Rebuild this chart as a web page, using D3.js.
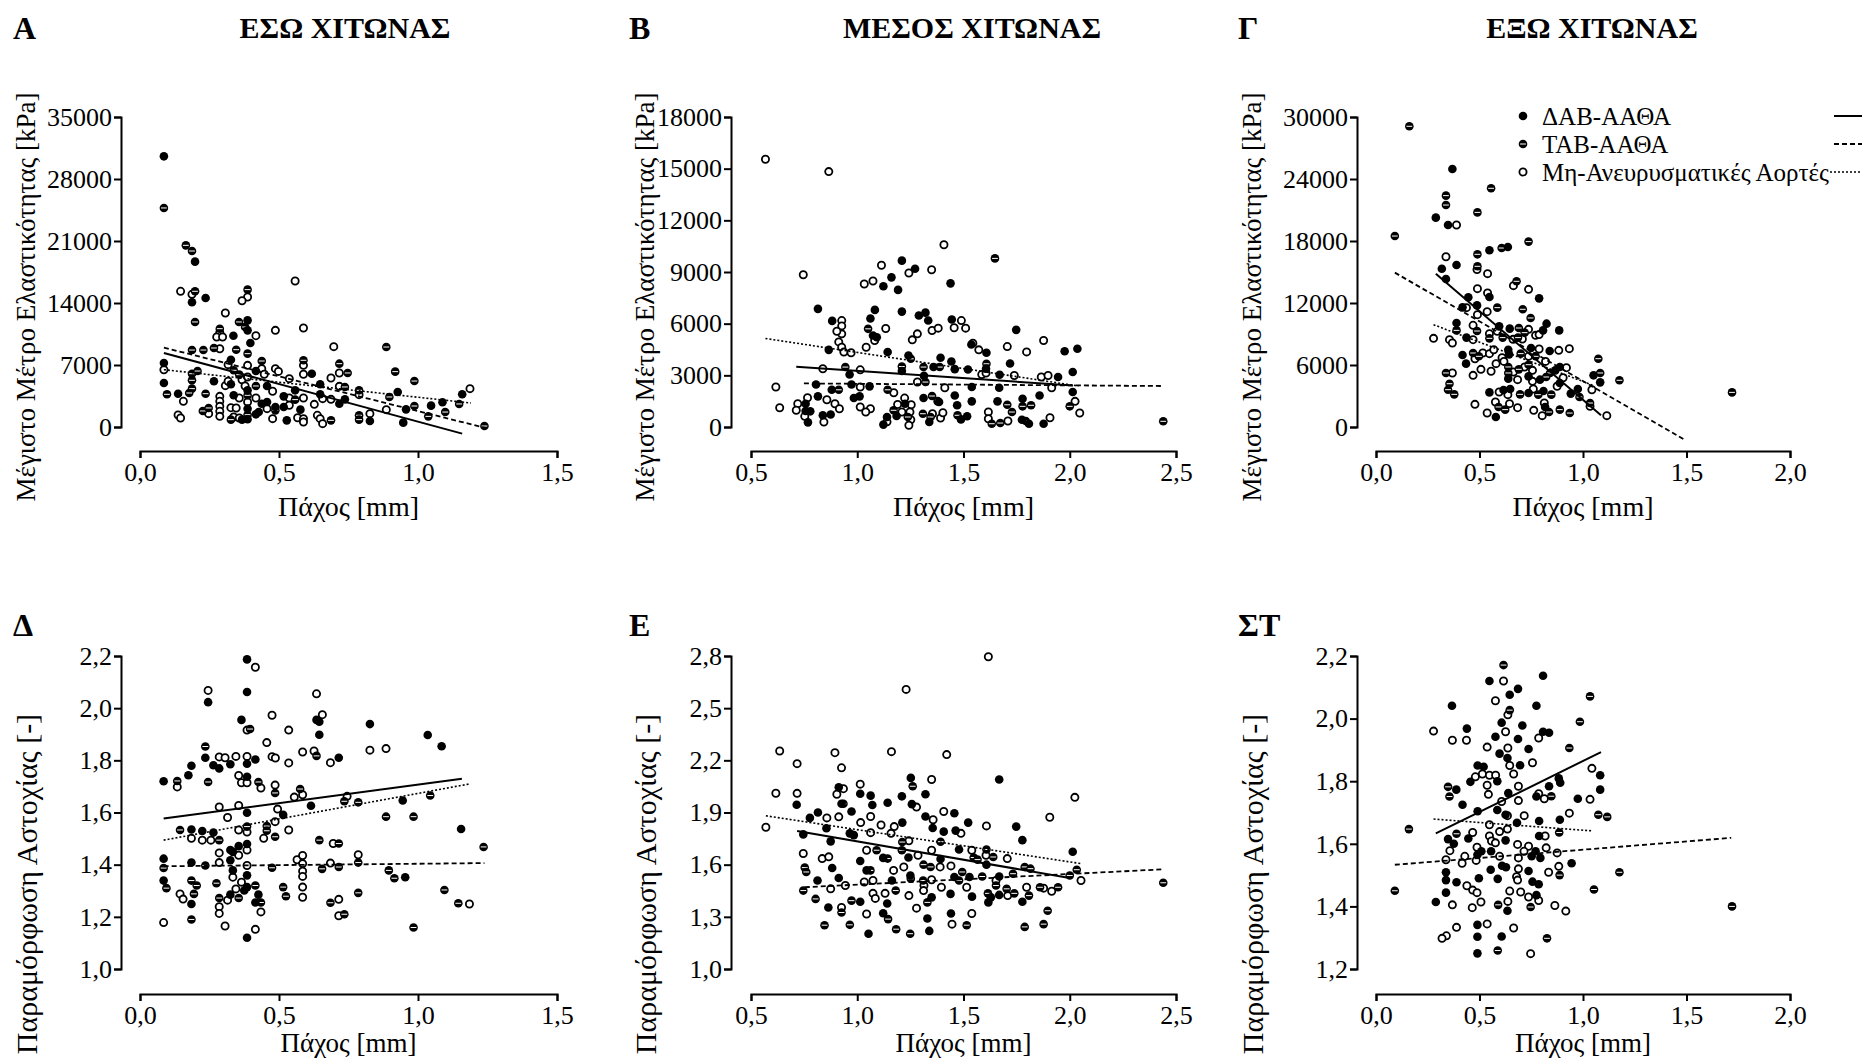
<!DOCTYPE html>
<html><head><meta charset="utf-8">
<script src="https://cdn.jsdelivr.net/npm/d3@7"></script>
<style>body{margin:0;background:#fff}svg{display:block}text{font-family:"Liberation Serif","Times New Roman",serif;fill:#000}</style>
</head><body>
<svg id="c" width="1863" height="1060"></svg>
<script>
// ---------- DATA ----------
const groupNames = ["ΔΑΒ-ΑΑΘΑ", "ΤΑΒ-ΑΑΘΑ", "Μη-Ανευρυσματικές Αορτές"];
const panelLetters = ["Α", "Β", "Γ", "Δ", "Ε", "ΣΤ"];
const panelTitles = ["ΕΣΩ ΧΙΤΩΝΑΣ", "ΜΕΣΟΣ ΧΙΤΩΝΑΣ", "ΕΞΩ ΧΙΤΩΝΑΣ"];
const yLabelTop = "Μέγιστο Μέτρο Ελαστικότητας [kPa]";
const yLabelBottom = "Παραμόρφωση Αστοχίας [-]";
const xLabel = "Πάχος [mm]";
const xDomains = [[0, 1.5], [0.5, 2.5], [0, 2.0]];
const yDomainsTop = [[0, 35000], [0, 18000], [0, 30000]];
const yStepsTop = [7000, 3000, 6000];
const yDomainsBottom = [[1.0, 2.2], [1.0, 2.8], [1.2, 2.2]];
const yStepsBottom = [0.2, 0.3, 0.2];

// Panel A
const A_dab = [[0.086,30560],[0.198,18670],[0.187,14080],[0.236,14570],[0.387,12040],[0.387,10910],[0.336,10310],[0.397,9480],[0.086,7230],[0.086,4970],[0.137,3760],[0.266,5160],[0.327,7600],[0.327,4820],[0.337,3580],[0.367,830],[0.387,4140],[0.387,2070],[0.417,6320],[0.417,1430],[0.427,1690],[0.438,2630],[0.457,2820],[0.457,4630],[0.487,2260],[0.517,3460],[0.517,2260],[0.528,750],[0.558,4140],[0.577,1960],[0.618,6020],[0.648,4820],[0.648,3690],[0.717,2630],[0.737,3120],[0.827,680],[0.927,3950],[0.947,490],[0.957,1990],[1.047,2410],[1.088,2790],[1.159,3690],[0.387,870]];
const A_tab = [[0.086,24730],[0.165,20510],[0.187,19870],[0.198,15320],[0.387,15510],[0.198,11860],[0.356,11860],[0.378,11290],[0.287,11100],[0.187,8690],[0.228,8690],[0.266,8920],[0.346,8730],[0.387,8280],[0.097,3690],[0.187,6020],[0.187,5270],[0.187,4330],[0.177,3840],[0.207,6320],[0.236,3760],[0.226,1810],[0.247,2150],[0.337,6400],[0.327,830],[0.357,5910],[0.387,3580],[0.417,4630],[0.438,7450],[0.487,1880],[0.558,3090],[0.588,7530],[0.687,750],[0.717,7150],[0.747,6100],[0.737,4520],[0.788,4140],[0.788,1320],[0.788,830],[0.886,9030],[0.897,3390],[0.918,6250],[0.987,5190],[0.987,2370],[1.037,1200],[1.098,1690],[1.148,2600],[1.239,110],[0.387,1390]];
const A_non = [[0.146,15320],[0.187,14980],[0.387,14680],[0.367,14260],[0.558,16480],[0.307,12870],[0.287,10650],[0.276,10160],[0.297,10160],[0.417,10310],[0.487,10910],[0.588,11180],[0.697,9070],[0.287,8840],[0.086,6470],[0.156,2900],[0.137,1350],[0.146,1020],[0.247,1510],[0.287,3460],[0.287,2900],[0.287,2330],[0.287,1770],[0.287,1200],[0.307,4670],[0.317,5160],[0.317,7040],[0.327,2180],[0.346,2150],[0.337,1130],[0.357,3270],[0.357,1020],[0.367,5340],[0.378,4630],[0.387,5650],[0.387,6960],[0.387,2820],[0.417,3270],[0.438,6590],[0.447,5950],[0.457,2070],[0.477,4030],[0.477,940],[0.487,6590],[0.498,6280],[0.537,5460],[0.537,3270],[0.537,2450],[0.567,1050],[0.588,6960],[0.588,5950],[0.588,3270],[0.588,940],[0.588,560],[0.627,2560],[0.638,1320],[0.648,940],[0.657,3200],[0.657,380],[0.687,5530],[0.687,3120],[0.717,6100],[0.717,4590],[0.788,3650],[0.827,1510],[0.886,1960],[1.187,4330]];
const A_fit_dab = [[0.086,8360],[1.159,-750]];
const A_fit_tab = [[0.086,8960],[1.239,-75]];
const A_fit_non = [[0.086,6470],[1.19,2710]];

// Panel B
const B_dab = [[1.21,9660],[1.272,9190],[1.161,8690],[1.123,8170],[1.192,7960],[1.439,8340],[0.815,6860],[1.083,6800],[1.21,6700],[0.882,6160],[1.062,6300],[1.074,5310],[1.092,5210],[1.29,6470],[1.321,6640],[1.334,6180],[1.445,6240],[1.537,4790],[1.608,4310],[1.748,5640],[1.976,4400],[2.036,4540],[0.866,4480],[1.143,4350],[1.241,4150],[1.392,4020],[1.443,3800],[1.719,3690],[0.964,3050],[1.21,3250],[1.359,3480],[1.459,3360],[1.521,3340],[1.606,3380],[1.67,3030],[1.945,2900],[2.014,3190],[1.314,2970],[0.806,2470],[0.973,2470],[1.058,2360],[1.539,2320],[1.668,2280],[2.014,2030],[0.88,2160],[0.815,1780],[0.984,1680],[1.011,1780],[1.312,1680],[1.459,1830],[1.539,1490],[1.778,1640],[1.858,1830],[0.757,1350],[1.225,1350],[1.385,1450],[1.47,1260],[1.66,1490],[0.757,930],[0.779,910],[0.768,270],[0.838,680],[0.875,730],[1.14,580],[1.123,140],[1.185,640],[1.339,290],[1.488,440],[1.517,620],[1.775,420],[1.808,190],[1.877,190]];
const B_tab = [[1.648,9790],[1.051,5700],[1.252,3960],[1.608,3670],[0.944,3480],[1.21,3510],[1.312,3480],[1.388,3480],[1.321,2610],[0.913,2160],[1.143,2160],[1.352,1800],[1.171,970],[1.706,1290],[1.778,1200],[1.818,1260],[2.0,1200],[1.238,580],[1.309,770],[1.345,580],[1.472,680],[1.633,190],[1.673,230],[1.728,870],[1.793,350],[2.44,330]];
const B_non = [[0.568,15550],[0.866,14830],[0.746,8840],[0.617,2320],[0.635,1120],[1.408,10580],[1.243,8940],[1.35,9130],[1.114,9390],[1.033,8300],[1.074,8480],[0.927,6180],[0.927,5870],[0.927,5410],[0.904,5560],[0.913,4940],[0.927,4630],[0.937,4350],[0.971,4310],[1.082,5020],[1.134,5720],[1.259,5060],[1.283,5410],[1.352,5600],[1.381,5740],[1.456,5760],[1.49,6180],[1.51,5740],[1.544,4870],[1.572,4480],[1.706,4670],[1.797,4360],[1.877,5020],[1.042,4630],[0.838,3380],[1.014,3320],[1.586,3050],[1.739,2990],[1.866,2900],[1.898,2990],[1.606,3130],[1.283,2610],[1.014,2320],[1.412,2280],[1.915,2280],[1.172,1990],[0.857,1580],[0.766,1700],[1.223,1680],[1.379,1490],[2.025,1490],[0.72,1350],[0.895,1350],[0.916,1060],[1.014,1160],[1.062,1060],[1.19,1310],[1.254,1290],[2.047,810],[0.713,970],[0.753,620],[0.843,290],[1.04,870],[1.14,300],[1.21,870],[1.248,870],[1.252,420],[1.243,100],[1.354,770],[1.392,520],[1.403,830],[1.617,870],[1.617,480],[1.709,350],[1.907,540]];
const B_fit_dab = [[0.713,3500],[2.014,2410]];
const B_fit_tab = [[0.749,2530],[2.43,2380]];
const B_fit_non = [[0.568,5140],[2.041,2380]];

// Panel C
const C_dab = [[0.369,24970],[0.289,20260],[0.348,19550],[0.548,17100],[0.637,17420],[0.318,15320],[0.338,14320],[0.389,15680],[0.548,12580],[0.788,12450],[0.446,12550],[0.488,11770],[0.418,11580],[0.389,10060],[0.595,9740],[0.646,9520],[0.824,10000],[0.807,9350],[0.885,9350],[0.437,8650],[0.749,7650],[0.839,7350],[0.418,6970],[0.639,7480],[0.643,7030],[0.435,6130],[0.866,5480],[0.888,5810],[1.051,5000],[1.083,4320],[0.639,4680],[0.737,4900],[0.792,4580],[0.888,4260],[0.548,3350],[0.616,3580],[0.648,3680],[0.737,3290],[0.809,3480],[0.941,3230],[0.975,3680],[0.817,1940],[0.579,970]];
const C_tab = [[0.161,29100],[0.091,18480],[0.556,23100],[0.338,22390],[0.338,21480],[0.49,20770],[0.49,16710],[0.49,15550],[0.607,17320],[0.737,17940],[0.679,14100],[0.586,11550],[0.709,11390],[0.747,10550],[0.389,9350],[0.488,9290],[0.69,9580],[0.718,9130],[0.548,8580],[0.612,8650],[0.686,8650],[0.469,7160],[0.497,6840],[0.699,7100],[0.771,6840],[1.074,6610],[0.639,5810],[0.639,5230],[0.69,5580],[0.737,6030],[0.841,5230],[0.338,5230],[1.083,5230],[1.176,4520],[0.822,4840],[0.355,4190],[0.348,3610],[0.378,3160],[0.696,3160],[0.784,3130],[0.847,3130],[0.983,2900],[0.592,1940],[0.624,1680],[0.836,1450],[0.888,1680],[0.936,1350],[1.034,2320],[1.72,3350]];
const C_non = [[0.389,19550],[0.488,15230],[0.338,16480],[0.539,14840],[0.664,13680],[0.737,13320],[0.49,13390],[0.539,12970],[0.437,11550],[0.537,11160],[0.49,10870],[0.469,9840],[0.548,9030],[0.586,9260],[0.737,9450],[0.771,8870],[0.788,8940],[0.278,8580],[0.355,8450],[0.369,8130],[0.469,8450],[0.662,8480],[0.707,8520],[0.788,7550],[0.883,7420],[0.934,7580],[0.516,7160],[0.548,7100],[0.569,7480],[0.609,6710],[0.478,6610],[0.737,6840],[0.819,6350],[0.507,5580],[0.556,5390],[0.58,6130],[0.618,6350],[0.664,5320],[0.718,5810],[0.756,5480],[0.92,5740],[0.369,5230],[0.469,5000],[0.684,4580],[0.756,4420],[0.904,4770],[0.595,3390],[0.637,3130],[0.76,3680],[0.875,3940],[1.043,3610],[0.478,2190],[0.577,2420],[0.645,2260],[0.684,1870],[0.762,1610],[0.813,2320],[0.803,1100],[1.034,2000],[1.115,1100],[0.537,1350]];
const C_fit_dab = [[0.289,14840],[1.087,1130]];
const C_fit_tab = [[0.091,14940],[1.488,-1190]];
const C_fit_non = [[0.278,9900],[1.049,4030]];

// Panel D
const D_dab = [[0.385,2.187],[0.245,2.023],[0.385,2.062],[0.365,1.955],[0.635,1.955],[0.645,1.948],[0.645,1.898],[0.827,1.939],[0.235,1.81],[0.415,1.803],[0.325,1.785],[0.264,1.781],[0.285,1.769],[0.185,1.779],[0.385,1.787],[0.715,1.81],[0.085,1.72],[0.174,1.743],[0.385,1.737],[0.945,1.646],[0.615,1.626],[0.385,1.599],[0.515,1.591],[1.155,1.537],[0.185,1.535],[0.224,1.529],[0.264,1.523],[0.325,1.456],[0.325,1.417],[0.334,1.449],[0.355,1.471],[0.385,1.479],[0.185,1.408],[0.085,1.423],[0.954,1.352],[0.334,1.378],[0.385,1.359],[0.085,1.339],[0.185,1.249],[0.325,1.285],[0.375,1.301],[0.385,1.314],[0.426,1.285],[0.415,1.255],[0.385,1.12],[1.035,1.897],[1.085,1.854]];
const D_tab = [[0.396,1.92],[0.235,1.853],[0.635,1.817],[0.134,1.721],[0.245,1.717],[0.426,1.717],[0.486,1.675],[0.576,1.69],[0.735,1.643],[0.785,1.639],[1.044,1.665],[0.885,1.584],[0.984,1.584],[1.236,1.468],[0.144,1.533],[0.285,1.494],[0.385,1.546],[0.456,1.548],[0.456,1.53],[0.486,1.507],[0.645,1.494],[0.715,1.481],[0.235,1.397],[0.085,1.387],[0.475,1.388],[0.655,1.384],[0.715,1.391],[0.785,1.408],[0.895,1.378],[0.915,1.348],[0.095,1.31],[0.185,1.339],[0.204,1.32],[0.194,1.288],[0.275,1.329],[0.285,1.272],[0.355,1.272],[0.415,1.32],[0.435,1.255],[0.515,1.314],[0.525,1.279],[0.685,1.254],[0.735,1.21],[0.785,1.292],[0.185,1.19],[0.984,1.159],[1.095,1.303],[1.145,1.252]];
const D_non = [[0.415,2.157],[0.245,2.068],[0.635,2.055],[0.475,1.973],[0.385,1.916],[0.656,1.975],[0.535,1.916],[0.456,1.868],[0.285,1.813],[0.306,1.81],[0.345,1.815],[0.385,1.815],[0.475,1.814],[0.487,1.809],[0.535,1.79],[0.585,1.832],[0.626,1.836],[0.685,1.791],[0.827,1.839],[0.885,1.845],[0.134,1.698],[0.355,1.742],[0.365,1.714],[0.385,1.714],[0.435,1.694],[0.486,1.705],[0.585,1.668],[0.555,1.659],[0.745,1.662],[0.285,1.621],[0.355,1.627],[0.495,1.613],[0.315,1.581],[0.486,1.565],[0.185,1.501],[0.224,1.494],[0.255,1.494],[0.355,1.533],[0.385,1.525],[0.445,1.501],[0.535,1.533],[0.695,1.481],[0.285,1.445],[0.285,1.408],[0.385,1.456],[0.355,1.436],[0.385,1.397],[0.565,1.419],[0.585,1.435],[0.585,1.404],[0.585,1.375],[0.585,1.355],[0.585,1.314],[0.585,1.275],[0.685,1.406],[0.785,1.438],[0.334,1.352],[0.144,1.288],[0.155,1.268],[0.285,1.239],[0.315,1.264],[0.345,1.307],[0.365,1.333],[0.435,1.219],[0.715,1.267],[0.715,1.204],[0.285,1.213],[0.085,1.178],[0.306,1.165],[0.415,1.152],[1.185,1.249]];
const D_fit_dab = [[0.085,1.577],[1.158,1.729]];
const D_fit_tab = [[0.085,1.394],[1.239,1.406]];
const D_fit_non = [[0.085,1.494],[1.188,1.71]];

// Panel E
const E_dab = [[0.715,1.945],[1.252,2.099],[1.668,2.09],[1.21,1.993],[1.321,2.005],[1.014,2.008],[0.913,2.045],[0.926,1.95],[1.063,1.997],[1.071,1.943],[1.143,1.956],[1.257,1.948],[0.973,1.906],[0.815,1.9],[0.777,1.869],[1.457,1.896],[1.212,1.842],[1.321,1.877],[1.522,1.842],[1.355,1.811],[0.855,1.809],[0.965,1.78],[0.984,1.77],[1.407,1.79],[1.463,1.796],[1.748,1.819],[1.777,1.741],[0.746,1.774],[0.875,1.734],[1.479,1.687],[1.122,1.639],[1.241,1.641],[1.392,1.633],[1.014,1.621],[1.608,1.6],[0.882,1.581],[1.044,1.567],[2.014,1.674],[1.457,1.529],[1.528,1.529],[1.25,1.538],[1.668,1.532],[0.913,1.523],[0.813,1.509],[1.163,1.509],[1.439,1.432],[1.54,1.416],[1.629,1.412],[1.668,1.426],[1.777,1.387],[1.014,1.387],[1.141,1.377],[1.35,1.412],[1.617,1.383],[0.864,1.354],[1.122,1.321],[1.441,1.319],[1.33,1.29],[1.339,1.219],[1.053,1.203]];
const E_tab = [[1.261,2.051],[0.935,1.95],[1.212,1.73],[1.392,1.732],[1.091,1.683],[1.21,1.683],[1.608,1.687],[1.143,1.635],[1.548,1.641],[1.566,1.629],[1.64,1.644],[1.312,1.6],[0.753,1.583],[0.76,1.558],[1.062,1.567],[1.345,1.587],[1.788,1.587],[1.815,1.577],[2.033,1.571],[2.0,1.538],[1.733,1.548],[1.494,1.558],[1.588,1.532],[1.252,1.519],[1.31,1.509],[1.479,1.509],[2.44,1.496],[0.746,1.451],[1.615,1.435],[1.653,1.48],[1.703,1.461],[1.86,1.47],[1.945,1.47],[1.181,1.451],[1.739,1.435],[1.808,1.422],[0.804,1.403],[0.973,1.393],[1.33,1.383],[0.926,1.325],[1.145,1.287],[1.896,1.335],[0.846,1.252],[0.965,1.254],[1.183,1.229],[1.515,1.252],[1.788,1.242],[1.877,1.258],[1.249,1.203]];
const E_non = [[1.617,2.796],[1.23,2.608],[0.635,2.254],[0.895,2.244],[1.161,2.25],[1.421,2.233],[0.717,2.181],[0.926,2.157],[0.617,2.011],[0.717,2.01],[0.57,1.815],[1.35,2.09],[2.024,1.987],[1.014,2.063],[0.935,2.037],[0.904,2.005],[1.279,1.931],[0.857,1.869],[0.913,1.875],[1.063,1.877],[1.407,1.906],[1.906,1.873],[1.016,1.842],[1.112,1.828],[1.174,1.819],[1.357,1.858],[1.063,1.784],[1.159,1.78],[1.488,1.78],[1.608,1.823],[1.243,1.737],[1.35,1.683],[1.539,1.683],[0.746,1.664],[0.835,1.635],[0.866,1.645],[1.044,1.683],[1.286,1.654],[1.606,1.654],[1.706,1.635],[1.219,1.587],[1.39,1.587],[1.441,1.593],[1.171,1.567],[1.35,1.513],[1.653,1.509],[0.944,1.48],[1.033,1.5],[1.074,1.509],[2.053,1.509],[0.875,1.461],[1.314,1.48],[1.396,1.47],[1.515,1.47],[1.797,1.47],[1.877,1.465],[1.915,1.447],[1.074,1.435],[1.085,1.406],[1.131,1.435],[1.243,1.422],[1.312,1.451],[1.708,1.422],[0.926,1.354],[1.279,1.35],[1.044,1.316],[1.539,1.319],[1.446,1.258]];
const E_fit_dab = [[0.717,1.794],[2.0,1.523]];
const E_fit_tab = [[0.753,1.47],[2.432,1.573]];
const E_fit_non = [[0.57,1.881],[2.053,1.606]];

// Panel ΣΤ
const F_dab = [[0.548,2.12],[0.807,2.137],[0.686,2.095],[0.646,2.076],[0.367,2.041],[0.775,2.041],[0.607,1.987],[0.707,1.978],[0.439,1.968],[0.807,1.958],[0.836,1.955],[0.577,1.942],[0.686,1.935],[0.737,1.903],[0.597,1.888],[0.635,1.874],[0.696,1.851],[0.491,1.85],[0.52,1.846],[1.083,1.819],[0.586,1.8],[0.456,1.798],[0.883,1.809],[0.89,1.795],[0.836,1.784],[0.388,1.773],[0.639,1.762],[0.775,1.751],[1.083,1.773],[0.975,1.744],[0.418,1.725],[0.491,1.704],[0.586,1.708],[0.626,1.693],[0.788,1.673],[0.888,1.677],[0.681,1.667],[0.788,1.625],[0.348,1.615],[0.446,1.617],[0.626,1.611],[0.376,1.6],[0.509,1.576],[0.771,1.576],[0.49,1.565],[0.556,1.576],[0.609,1.53],[0.628,1.525],[0.752,1.56],[0.794,1.555],[0.737,1.513],[0.945,1.538],[0.338,1.509],[0.554,1.517],[0.338,1.484],[0.497,1.49],[0.588,1.488],[0.756,1.479],[0.786,1.471],[0.389,1.477],[0.338,1.444],[0.775,1.436],[0.289,1.414],[0.635,1.386],[0.49,1.341],[0.49,1.303],[0.607,1.304],[0.49,1.25]];
const F_tab = [[0.616,2.171],[1.034,2.071],[0.646,2.027],[0.985,1.99],[0.934,1.906],[0.348,1.782],[0.355,1.751],[0.847,1.752],[1.074,1.693],[1.117,1.686],[0.159,1.647],[0.389,1.632],[0.885,1.636],[0.887,1.5],[1.053,1.454],[1.176,1.509],[0.091,1.45],[0.59,1.405],[0.747,1.398],[1.72,1.4],[0.826,1.298],[0.588,1.259]];
const F_non = [[0.616,2.12],[0.577,2.057],[0.637,2.012],[0.278,1.96],[0.626,1.958],[0.369,1.931],[0.437,1.931],[0.786,1.938],[0.537,1.909],[0.637,1.906],[0.646,1.85],[0.756,1.859],[0.665,1.823],[0.514,1.823],[0.548,1.819],[0.578,1.819],[0.48,1.814],[0.537,1.787],[1.043,1.841],[0.543,1.758],[0.688,1.784],[0.688,1.738],[0.786,1.76],[0.813,1.744],[1.034,1.742],[0.607,1.735],[0.635,1.69],[0.716,1.69],[0.934,1.698],[0.548,1.661],[0.467,1.636],[0.597,1.639],[0.635,1.647],[0.817,1.625],[0.548,1.625],[0.558,1.609],[0.577,1.603],[0.357,1.578],[0.488,1.589],[0.684,1.598],[0.737,1.592],[0.715,1.576],[0.822,1.587],[0.875,1.571],[0.429,1.56],[0.597,1.56],[0.688,1.555],[0.338,1.549],[0.416,1.538],[0.484,1.547],[0.688,1.52],[0.834,1.509],[0.883,1.528],[0.679,1.495],[0.684,1.484],[0.439,1.466],[0.467,1.452],[0.488,1.444],[0.646,1.449],[0.699,1.446],[0.737,1.43],[0.786,1.419],[0.507,1.414],[0.637,1.416],[0.369,1.405],[0.465,1.396],[0.864,1.403],[0.917,1.385],[0.389,1.333],[0.537,1.344],[0.665,1.331],[0.34,1.306],[0.319,1.298],[0.747,1.249]];
const F_fit_dab = [[0.289,1.633],[1.087,1.893]];
const F_fit_tab = [[0.091,1.533],[1.716,1.619]];
const F_fit_non = [[0.278,1.679],[1.049,1.641]];

// ---------- LAYOUT ----------
const colX = [[140, 557], [751, 1176], [1376, 1790]];
const colYAxisX = [121, 731, 1357];
const rowY = [[427, 117], [969, 656]];
const rowXAxisY = [451, 994];
const xTitleY = [516, 1052];
const xTitleSize = [28, 27];
const letterX = [13, 629, 1238];
const letterY = [39, 636];
const titleX = [345, 972, 1592];
const yLabX = [26, 645, 1252];
const yLabYc = [297, 884];
const yLabSize = [27, 30];

const panels = [
  {col:0,row:0,data:[A_dab,A_tab,A_non],fits:[A_fit_dab,A_fit_tab,A_fit_non]},
  {col:1,row:0,data:[B_dab,B_tab,B_non],fits:[B_fit_dab,B_fit_tab,B_fit_non]},
  {col:2,row:0,data:[C_dab,C_tab,C_non],fits:[C_fit_dab,C_fit_tab,C_fit_non]},
  {col:0,row:1,data:[D_dab,D_tab,D_non],fits:[D_fit_dab,D_fit_tab,D_fit_non]},
  {col:1,row:1,data:[E_dab,E_tab,E_non],fits:[E_fit_dab,E_fit_tab,E_fit_non]},
  {col:2,row:1,data:[F_dab,F_tab,F_non],fits:[F_fit_dab,F_fit_tab,F_fit_non]}
];

const svg = d3.select("#c");
const comma = f => (v => d3.format(f)(v).replace(".", ","));
const lineDash = [null, "5,3", "2,2"];
const lineW = [2, 1.8, 1.6];

function marker(g, type, cx, cy) {
  if (type === 0) {
    g.append("circle").attr("cx", cx).attr("cy", cy).attr("r", 4.3).attr("fill", "#000");
  } else if (type === 1) {
    g.append("circle").attr("cx", cx).attr("cy", cy).attr("r", 4.3).attr("fill", "#000");
    g.append("line").attr("x1", cx - 2.9).attr("x2", cx + 2.9).attr("y1", cy).attr("y2", cy)
      .attr("stroke", "#fff").attr("stroke-width", 1);
  } else {
    g.append("circle").attr("cx", cx).attr("cy", cy).attr("r", 3.6).attr("fill", "#fff")
      .attr("stroke", "#000").attr("stroke-width", 1.8);
  }
}

panels.forEach((p, i) => {
  const xd = xDomains[p.col];
  const yd = p.row === 0 ? yDomainsTop[p.col] : yDomainsBottom[p.col];
  const ys = p.row === 0 ? yStepsTop[p.col] : yStepsBottom[p.col];
  const x = d3.scaleLinear().domain(xd).range(colX[p.col]);
  const y = d3.scaleLinear().domain(yd).range(rowY[p.row]);
  const g = svg.append("g");

  // x axis
  const xMaj = d3.range(xd[0], xd[1] + 1e-9, 0.5);
  const xMin = d3.range(xd[0] + 0.25, xd[1], 0.5);
  const xAxisG = g.append("g").attr("transform", `translate(0,${rowXAxisY[p.row]})`);
  xAxisG.call(d3.axisBottom(x).tickValues(xMin).tickSize(5).tickFormat(""));
  xAxisG.call(d3.axisBottom(x).tickValues(xMaj).tickSize(7).tickPadding(5).tickFormat(comma(".1f")));
  xAxisG.selectAll("path.domain").attr("stroke-width", 2);
  xAxisG.selectAll(".tick line").attr("stroke-width", 2);
  xAxisG.selectAll(".tick text").attr("font-size", 26);

  // y axis
  const yMaj = d3.range(0, Math.round((yd[1] - yd[0]) / ys) + 1).map(k => yd[0] + k * ys);
  const yMin = d3.range(0, Math.round((yd[1] - yd[0]) / ys)).map(k => yd[0] + (k + 0.5) * ys);
  const yAxisG = g.append("g").attr("transform", `translate(${colYAxisX[p.col]},0)`);
  yAxisG.call(d3.axisLeft(y).tickValues(yMin).tickSize(5).tickFormat(""));
  yAxisG.call(d3.axisLeft(y).tickValues(yMaj).tickSize(7).tickPadding(2)
    .tickFormat(p.row === 0 ? d3.format("d") : comma(".1f")));
  yAxisG.selectAll("path.domain").attr("stroke-width", 2);
  yAxisG.selectAll(".tick line").attr("stroke-width", 2);
  yAxisG.selectAll(".tick text").attr("font-size", 26);

  // axis titles
  g.append("text").attr("x", (colX[p.col][0] + colX[p.col][1]) / 2).attr("y", xTitleY[p.row])
    .attr("text-anchor", "middle").attr("font-size", xTitleSize[p.row]).text(xLabel);
  g.append("text").attr("transform", `translate(${yLabX[p.col]},${yLabYc[p.row]}) rotate(-90)`)
    .attr("text-anchor", "middle").attr("dy", "0.35em").attr("font-size", yLabSize[p.row])
    .text(p.row === 0 ? yLabelTop : yLabelBottom);

  // letter
  g.append("text").attr("x", letterX[p.col]).attr("y", letterY[p.row]).attr("font-size", 32)
    .attr("font-weight", "bold").text(panelLetters[i]);
  if (p.row === 0) {
    g.append("text").attr("x", titleX[p.col]).attr("y", 38).attr("text-anchor", "middle")
      .attr("font-size", 30).attr("font-weight", "bold").text(panelTitles[p.col]);
  }

  // points
  const pg = g.append("g");
  [2, 1, 0].forEach(t => {
    p.data[t].forEach(d => marker(pg, t, x(d[0]), y(d[1])));
  });

  // fit lines
  const line = d3.line().x(d => x(d[0])).y(d => y(d[1]));
  p.fits.forEach((f, t) => {
    g.append("path").attr("d", line(f)).attr("fill", "none").attr("stroke", "#000")
      .attr("stroke-width", lineW[t]).attr("stroke-dasharray", lineDash[t]);
  });
});

// legend (in panel Γ)
const lg = svg.append("g");
const legY = [116, 144, 172];
groupNames.forEach((n, t) => {
  marker(lg, t, 1523, legY[t]);
  lg.append("text").attr("x", 1542).attr("y", legY[t]).attr("dy", "0.35em").attr("font-size", 25).text(n);
  lg.append("line").attr("x1", t === 2 ? 1830 : 1834).attr("x2", 1862).attr("y1", legY[t]).attr("y2", legY[t])
    .attr("stroke", "#000").attr("stroke-width", lineW[t]).attr("stroke-dasharray", lineDash[t]);
});
</script>
</body></html>
